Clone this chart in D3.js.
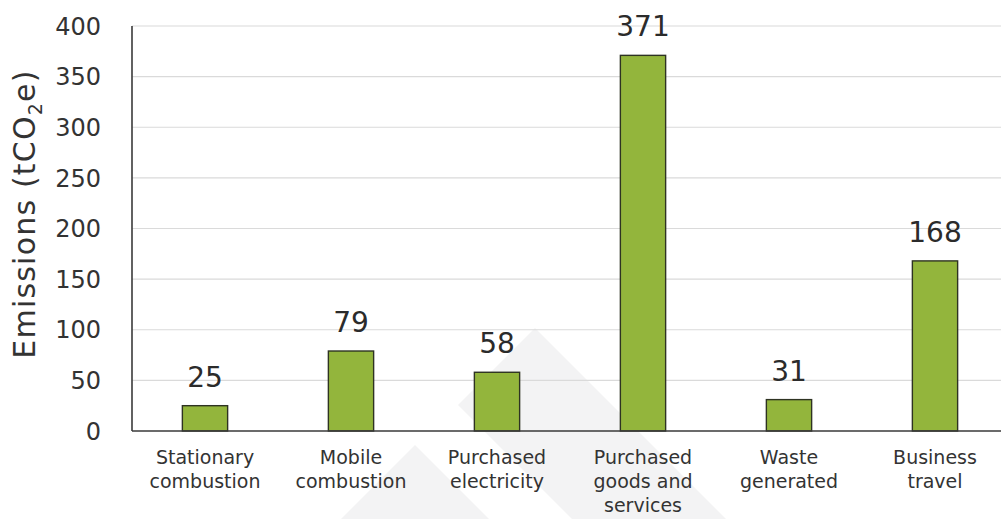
<!DOCTYPE html>
<html>
<head>
<meta charset="utf-8">
<script src="https://cdn.jsdelivr.net/npm/d3@7"></script>
<style>
  html, body { margin: 0; padding: 0; background: #fff; }
  svg { display: block; font-family: "DejaVu Sans", sans-serif; }
</style>
</head>
<body>
<svg id="chart" width="1001" height="519"></svg>
<script>
// Emission sources (category labels split into lines)
const categories = [
  ["Stationary", "combustion"],
  ["Mobile", "combustion"],
  ["Purchased", "electricity"],
  ["Purchased", "goods and", "services"],
  ["Waste", "generated"],
  ["Business", "travel"]
];
// Emissions per source, tCO2e
const emissions = [25, 79, 58, 371, 31, 168];
// Y axis ticks
const yTicks = [0, 50, 100, 150, 200, 250, 300, 350, 400];

const svg = d3.select("#chart");
const W = 1001, H = 519;
const plot = { left: 132, right: 1008, top: 26, bottom: 431 };
const keys = categories.map(c => c.join(" "));

const x = d3.scaleBand()
  .domain(keys)
  .range([plot.left, plot.right])
  .paddingInner(0.69)
  .paddingOuter(0.345);

const y = d3.scaleLinear()
  .domain([0, 400])
  .range([plot.bottom, plot.top]);

// faint background emblem
const emblem = svg.append("g").attr("fill", "#f3f3f4");
emblem.append("path").attr("d", "M535,328 L726,519 L572,519 L458,405 Z");
emblem.append("path").attr("d", "M415,445 L489,519 L341,519 Z");

// horizontal gridlines
svg.append("g")
  .selectAll("line")
  .data(yTicks.filter(t => t > 0))
  .join("line")
  .attr("x1", plot.left)
  .attr("x2", W)
  .attr("y1", d => y(d))
  .attr("y2", d => y(d))
  .attr("stroke", "#dadada")
  .attr("stroke-width", 1.2);

// y tick labels
svg.append("g")
  .selectAll("text")
  .data(yTicks)
  .join("text")
  .attr("x", 101)
  .attr("y", d => y(d))
  .attr("dy", "0.36em")
  .attr("text-anchor", "end")
  .attr("font-size", 24)
  .attr("fill", "#333")
  .text(d => d);

// y title
const title = svg.append("text")
  .attr("transform", "translate(35,214) rotate(-90)")
  .attr("text-anchor", "middle")
  .attr("font-size", 30)
  .attr("letter-spacing", 1.2)
  .attr("fill", "#333");
title.append("tspan").text("Emissions (tCO");
title.append("tspan").attr("font-size", 19).attr("dy", 7).text("2");
title.append("tspan").attr("dy", -7).text("e)");

// bars
svg.append("g")
  .selectAll("rect")
  .data(emissions)
  .join("rect")
  .attr("x", (d, i) => x(keys[i]))
  .attr("width", x.bandwidth())
  .attr("y", d => y(d))
  .attr("height", d => y(0) - y(d))
  .attr("fill", "#93b53c")
  .attr("stroke", "#2e3322")
  .attr("stroke-width", 1.4);

// value labels
svg.append("g")
  .selectAll("text")
  .data(emissions)
  .join("text")
  .attr("x", (d, i) => x(keys[i]) + x.bandwidth() / 2)
  .attr("y", d => y(d) - 19)
  .attr("text-anchor", "middle")
  .attr("font-size", 28)
  .attr("fill", "#2b2b2b")
  .text(d => d);

// axis lines
svg.append("line")
  .attr("x1", plot.left).attr("x2", plot.left)
  .attr("y1", plot.top).attr("y2", plot.bottom)
  .attr("stroke", "#3a3a3a").attr("stroke-width", 1.6);
svg.append("line")
  .attr("x1", plot.left).attr("x2", W)
  .attr("y1", plot.bottom).attr("y2", plot.bottom)
  .attr("stroke", "#3a3a3a").attr("stroke-width", 1.6);

// category labels
const catG = svg.append("g")
  .selectAll("text")
  .data(categories)
  .join("text")
  .attr("x", (d, i) => x(keys[i]) + x.bandwidth() / 2)
  .attr("y", 464)
  .attr("text-anchor", "middle")
  .attr("font-size", 19)
  .attr("fill", "#333");
catG.selectAll("tspan")
  .data(d => d)
  .join("tspan")
  .attr("x", function () { return this.parentNode.getAttribute("x"); })
  .attr("dy", (d, i) => i === 0 ? 0 : 24)
  .text(d => d);
</script>
</body>
</html>
